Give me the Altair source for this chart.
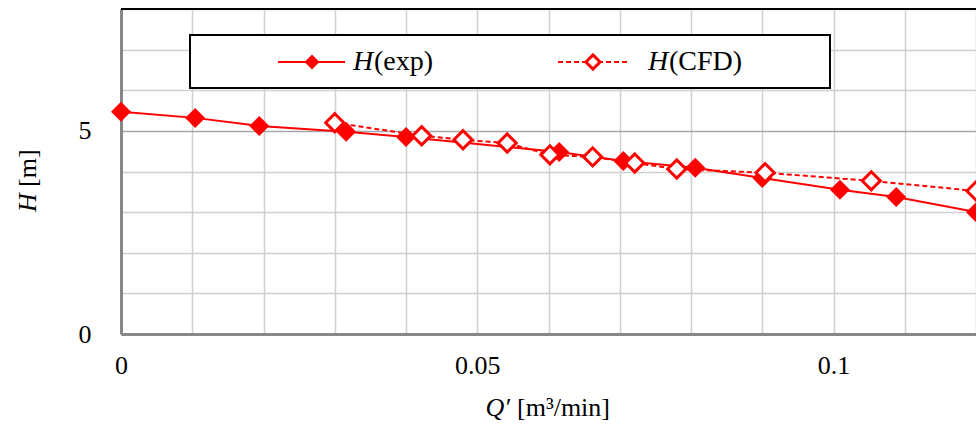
import altair as alt
import pandas as pd

# Measured head curve H(exp) and simulated head curve H(CFD)
q_exp = [0.0, 0.0104, 0.0194, 0.0316, 0.0400, 0.0615, 0.0705, 0.0806, 0.0900, 0.1009, 0.1088, 0.1200]
h_exp = [5.47, 5.32, 5.12, 4.98, 4.85, 4.48, 4.26, 4.09, 3.84, 3.55, 3.37, 3.00]
q_cfd = [0.0300, 0.0422, 0.0480, 0.0542, 0.0602, 0.0662, 0.0721, 0.0780, 0.0904, 0.1053, 0.1200]
h_cfd = [5.20, 4.88, 4.78, 4.70, 4.41, 4.36, 4.21, 4.06, 3.97, 3.77, 3.52]

# Grid positions and the subset of them that carry a label
x_grid = [0.0, 0.01, 0.02, 0.03, 0.04, 0.05, 0.06, 0.07, 0.08, 0.09, 0.1, 0.11, 0.12]
x_labelled = [0.0, 0.05, 0.1]
y_grid = [0, 1, 2, 3, 4, 5, 6, 7, 8]
y_labelled = [0, 5]

exp_df = pd.DataFrame({"Q": q_exp, "H": h_exp})
cfd_df = pd.DataFrame({"Q": q_cfd, "H": h_cfd})
one = pd.DataFrame({"k": [0]})

FONT = "Liberation Serif"
RED = "#ff0000"
W, H = 855, 325

x_axis = alt.Axis(
    values=x_grid, format="~g",
    labelExpr=f"indexof({x_labelled}, datum.value) >= 0 ? datum.label : ''",
    grid=True, gridColor="#d0d0d0", gridWidth=1.5,
    domainColor="#888888", domainWidth=3, ticks=False,
    labelFont=FONT, labelFontSize=26, labelColor="black", labelPadding=18,
    labelFlush=False, title=None,
)
y_axis = alt.Axis(
    values=y_grid,
    labelExpr=f"indexof({y_labelled}, datum.value) >= 0 ? datum.label : ''",
    grid=True,
    gridColor=alt.condition("datum.value == 5", alt.value("#a6a6a6"), alt.value("#d0d0d0")),
    gridWidth=1.5,
    domainColor="#888888", domainWidth=3, ticks=False,
    labelFont=FONT, labelFontSize=26, labelColor="black", labelPadding=30,
    title=None,
)
xs = alt.X("Q:Q", scale=alt.Scale(domain=[0, 0.12], nice=False, zero=False), axis=x_axis)
ys = alt.Y("H:Q", scale=alt.Scale(domain=[0, 8], nice=False), axis=y_axis)

exp_line = alt.Chart(exp_df).mark_line(color=RED, strokeWidth=2).encode(x=xs, y=ys)
cfd_line = alt.Chart(cfd_df).mark_line(color=RED, strokeWidth=2, strokeDash=[5, 3]).encode(x=xs, y=ys)
exp_pts = alt.Chart(exp_df).mark_point(
    shape="diamond", filled=True, color=RED, size=400, opacity=1
).encode(x="Q:Q", y="H:Q")
cfd_pts = alt.Chart(cfd_df).mark_point(
    shape="diamond", filled=True, fill="white", stroke=RED, strokeWidth=3, size=330, opacity=1
).encode(x="Q:Q", y="H:Q")

# Frame line along the top of the plot area
top_border = alt.Chart(one).mark_rule(color="black", strokeWidth=2).encode(
    x=alt.value(0), x2=alt.value(W), y=alt.value(0)
)

# Legend box
leg_box = alt.Chart(one).mark_rect(fill="white", stroke="black", strokeWidth=2).encode(
    x=alt.value(69), x2=alt.value(709), y=alt.value(26), y2=alt.value(79)
)
leg_y = 53
leg_line1 = alt.Chart(one).mark_rule(color=RED, strokeWidth=2).encode(
    x=alt.value(157), x2=alt.value(224), y=alt.value(leg_y)
)
leg_pt1 = alt.Chart(one).mark_point(shape="diamond", filled=True, color=RED, size=225, opacity=1).encode(
    x=alt.value(191), y=alt.value(leg_y)
)
leg_line2 = alt.Chart(one).mark_rule(color=RED, strokeWidth=2, strokeDash=[5, 3]).encode(
    x=alt.value(437), x2=alt.value(507), y=alt.value(leg_y)
)
leg_pt2 = alt.Chart(one).mark_point(
    shape="diamond", filled=True, fill="white", stroke=RED, strokeWidth=3, size=200, opacity=1
).encode(x=alt.value(472), y=alt.value(leg_y))


def txt(s, x, y, italic=False, align="left", angle=0, size=26):
    kw = dict(text=s, font=FONT, fontSize=size, color="black", align=align, baseline="middle")
    if italic:
        kw["fontStyle"] = "italic"
    if angle:
        kw["angle"] = angle
    return alt.Chart(one).mark_text(**kw).encode(x=alt.value(x), y=alt.value(y))


leg_texts = [
    txt("H", 232, leg_y, italic=True, size=28),
    txt("(exp)", 253, leg_y, size=28),
    txt("H", 527, leg_y, italic=True, size=28),
    txt("(CFD)", 548, leg_y, size=28),
]

# Axis titles (italic symbol, upright unit)
x_title = [
    txt("Q′", 389, 399, italic=True, align="right"),
    txt("[m³/min]", 396, 399),
]
y_title = [
    txt("H", -93, 203, italic=True, angle=270),
    txt("[m]", -93, 178, angle=270),
]

chart = alt.layer(
    exp_line, cfd_line, exp_pts, cfd_pts, top_border,
    leg_box, leg_line1, leg_pt1, leg_line2, leg_pt2,
    *leg_texts, *x_title, *y_title,
).properties(
    width=W, height=H,
    autosize=alt.AutoSizeParams(type="none"),
    padding={"left": 121, "top": 9, "right": 0, "bottom": 94},
    background="white",
).configure_view(stroke=None).configure_axis(
    labelFont=FONT, labelFontSize=26, labelColor="black"
)

chart.save("out.html", embed_options={"renderer": "svg", "actions": False})
